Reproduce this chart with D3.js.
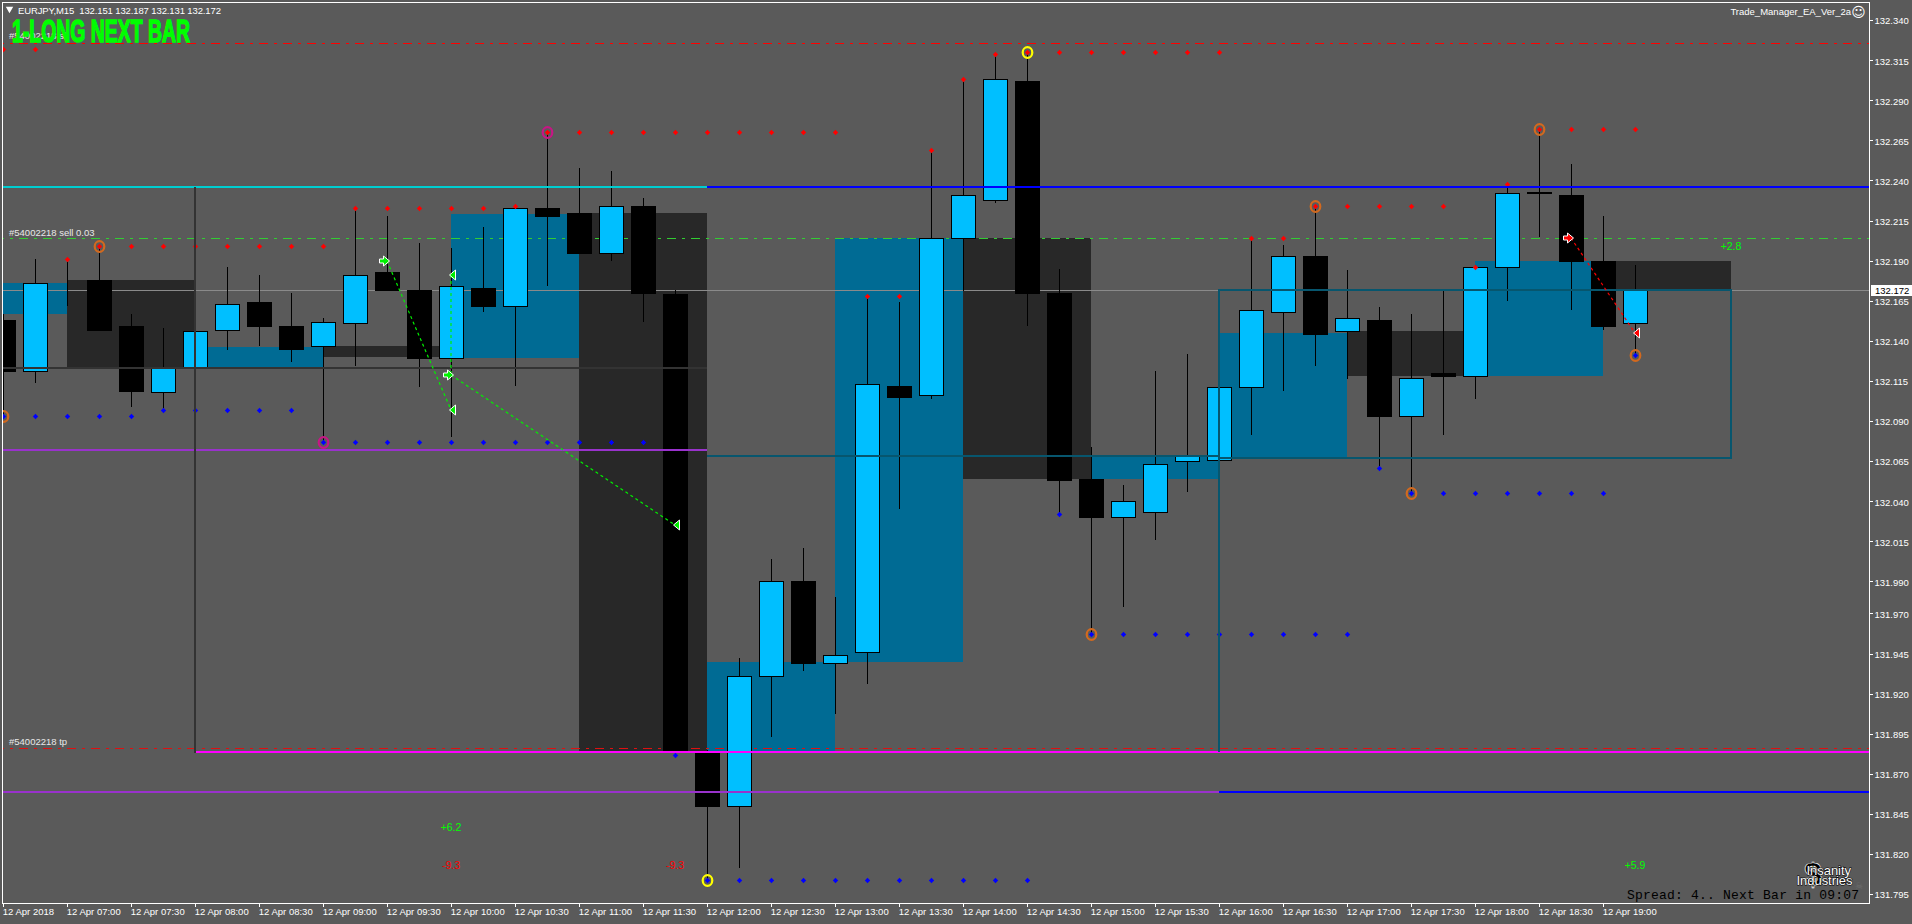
<!DOCTYPE html>
<html>
<head>
<meta charset="utf-8">
<title>EURJPY,M15</title>
<script src="https://cdn.jsdelivr.net/npm/d3@7"></script>
<style>
  html, body { margin: 0; padding: 0; background: #5a5a5a; overflow: hidden; }
  text { font-family: "Liberation Sans", sans-serif; font-size: 9.5px; white-space: pre; }
  .axis path.domain { display: none; }
  .axis line { stroke: #fff; shape-rendering: crispEdges; }
  .axis text { fill: #fff; font-family: "Liberation Sans", sans-serif; font-size: 9.5px; }
</style>
</head>
<body>
<svg id="chart" width="1912" height="924"></svg>
<script>
// M15 candles, index 0 = 12 Apr 06:30
const opens = [132.153,132.121,132.178,132.178,132.149,132.108,132.123,132.147,132.164,132.149,132.137,132.151,132.183,132.172,132.129,132.173,132.162,132.223,132.220,132.195,132.224,132.169,131.884,131.850,131.931,131.990,131.939,131.946,132.112,132.106,132.204,132.228,132.302,132.170,132.054,132.030,132.033,132.065,132.066,132.111,132.158,132.193,132.146,132.153,132.093,132.120,132.118,132.186,132.233,132.231,132.190,132.151];
const highs = [132.157,132.191,132.191,132.199,132.157,132.148,132.146,132.186,132.181,132.170,132.154,132.222,132.218,132.201,132.198,132.211,132.224,132.270,132.248,132.246,132.229,132.172,131.885,131.942,132.004,132.011,131.980,132.168,132.164,132.259,132.303,132.319,132.320,132.185,132.074,132.050,132.121,132.132,132.111,132.204,132.200,132.224,132.184,132.161,132.157,132.171,132.187,132.238,132.272,132.250,132.218,132.187];
const lows = [132.093,132.114,132.162,132.147,132.099,132.097,132.123,132.134,132.137,132.127,132.077,132.124,132.172,132.111,132.080,132.158,132.112,132.174,132.195,132.190,132.152,131.882,131.804,131.811,131.893,131.934,131.907,131.926,132.035,132.104,132.171,132.226,132.149,132.032,131.957,131.974,132.016,132.046,132.066,132.081,132.109,132.124,132.116,132.061,132.045,132.081,132.104,132.165,132.205,132.159,132.147,132.131];
const closes = [132.121,132.176,132.178,132.147,132.109,132.123,132.146,132.163,132.149,132.135,132.152,132.181,132.172,132.129,132.174,132.162,132.223,132.218,132.195,132.224,132.170,131.884,131.850,131.931,131.990,131.939,131.944,132.113,132.105,132.204,132.231,132.303,132.170,132.053,132.030,132.040,132.063,132.068,132.111,132.159,132.193,132.144,132.154,132.093,132.117,132.118,132.186,132.232,132.232,132.190,132.149,132.172];

// fractal levels, one per bar
const resistance = [132.322,132.322,132.191,132.199,132.199,132.199,132.199,132.199,132.199,132.199,132.199,132.223,132.223,132.223,132.223,132.223,132.224,132.270,132.270,132.270,132.270,132.270,132.270,132.270,132.270,132.270,132.270,132.168,132.168,132.259,132.303,132.319,132.320,132.320,132.320,132.320,132.320,132.320,132.320,132.204,132.204,132.224,132.224,132.224,132.224,132.224,132.186,132.238,132.272,132.272,132.272,132.272];
const support = [132.093,132.093,132.093,132.093,132.093,132.097,132.097,132.097,132.097,132.097,132.077,132.077,132.077,132.077,132.077,132.077,132.077,132.077,132.077,132.077,132.077,131.882,131.804,131.804,131.804,131.804,131.804,131.804,131.804,131.804,131.804,131.804,131.804,132.032,131.957,131.957,131.957,131.957,131.957,131.957,131.957,131.957,131.957,132.061,132.045,132.045,132.045,132.045,132.045,132.045,132.045,132.131];

const orangeRings = [[0,132.093],[3,132.199],[34,131.957],[41,132.224],[44,132.045],[48,132.272],[51,132.131]];
const pinkRings = [[10,132.077],[17,132.270]];
const yellowRings = [[22,131.804],[32,132.320]];

// [first bar, last bar, top price, bottom price]
const blueZones = [[-1,2,132.176,132.157],[6,10,132.136,132.123],[14,18,132.219,132.129],[22,26,131.940,131.884],[26,30,132.204,131.940],[34,38,132.068,132.054],[38,42,132.145,132.067],[46,50,132.190,132.118]];
const darkZones = [[2,6,132.178,132.123],[10,14,132.137,132.130],[18,22,132.220,131.884],[30,34,132.204,132.054],[42,46,132.146,132.118],[50,54,132.190,132.172]];

// [bar, price, bar, price]
const greenTrades = [[12,132.190,14,132.097],[14,132.119,21,132.025],[14,132.181,14,132.119]];
const redTrades = [[49,132.204,51,132.145]];
const profitLabels = [[14,131.837,"+6.2"],[51,131.813,"+5.9"],[54,132.199,"+2.8"]];
const lossLabels = [[14,131.813,"-9.3"],[21,131.813,"-9.3"]];

const priceTicks = [132.340,132.315,132.290,132.265,132.240,132.215,132.190,132.165,132.140,132.115,132.090,132.065,132.040,132.015,131.990,131.970,131.945,131.920,131.895,131.870,131.845,131.820,131.795];
const timeTickBars = d3.range(0, 52, 2);
const timeTickLabels = ["12 Apr 2018","12 Apr 07:00","12 Apr 07:30","12 Apr 08:00","12 Apr 08:30","12 Apr 09:00","12 Apr 09:30","12 Apr 10:00","12 Apr 10:30","12 Apr 11:00","12 Apr 11:30","12 Apr 12:00","12 Apr 12:30","12 Apr 13:00","12 Apr 13:30","12 Apr 14:00","12 Apr 14:30","12 Apr 15:00","12 Apr 15:30","12 Apr 16:00","12 Apr 16:30","12 Apr 17:00","12 Apr 17:30","12 Apr 18:00","12 Apr 18:30","12 Apr 19:00"];

const lastPrice = 132.172;
const slPrice = 132.326;
const entryPrice = 132.204;
const tpPrice = 131.886;
const upperLevel = 132.236;
const midLevel = 132.072;
const targetLevel = 131.8835;
const lowerLevel = 131.8585;
const boxTop = 132.172;
const boxBottom = 132.067;
const lowerBoxTop = 132.068;
const stopRail = 132.123;

const plotLeft = 3, plotRight = 1869, plotTop = 3, plotBottom = 903;
const endBar = 59;

const xScale = d3.scaleLinear().domain([0, 54]).range([3.3, 1731.3]);
const yScale = d3.scaleLinear().domain([132.340, 131.795]).range([20.1, 894.1]);
const px = i => Math.round(xScale(i));
const py = p => Math.round(yScale(p));

const svg = d3.select("#chart");
svg.append("rect").attr("width", 1912).attr("height", 924).attr("fill", "#5a5a5a");

svg.append("clipPath").attr("id", "plot")
    .append("rect").attr("x", plotLeft).attr("y", plotTop).attr("width", plotRight - plotLeft).attr("height", plotBottom - plotTop);

const chart = svg.append("g").attr("clip-path", "url(#plot)").attr("shape-rendering", "crispEdges");

// zones sit under everything else
function drawZones(zones, color) {
  chart.append("g").selectAll("rect").data(zones).join("rect")
      .attr("x", d => px(d[0]))
      .attr("width", d => px(d[1]) - px(d[0]))
      .attr("y", d => py(d[2]))
      .attr("height", d => py(d[3]) - py(d[2]))
      .attr("fill", color);
}
drawZones(darkZones, "#282828");
drawZones(blueZones, "#006b94");

function hLine(parent, price, from, to, color, width, dash) {
  const offset = width % 2 ? 0.5 : 0;
  return parent.append("line")
      .attr("x1", px(from)).attr("x2", px(to))
      .attr("y1", py(price) + offset).attr("y2", py(price) + offset)
      .attr("stroke", color).attr("stroke-width", width)
      .attr("stroke-dasharray", dash || null);
}

// order lines stay behind the candles
hLine(chart, lastPrice, -1, endBar, "#8a8a8a", 1);
hLine(chart, slPrice, -1, endBar, "#ff0000", 1, "9 6 3 6");
hLine(chart, entryPrice, -1, endBar, "#32cd32", 1, "9 6 3 6");
hLine(chart, tpPrice, -1, endBar, "#e01010", 1, "9 6 3 6");

const candles = d3.range(opens.length);
const isBull = i => closes[i] > opens[i];

chart.append("g").selectAll("line").data(candles).join("line")
    .attr("x1", i => px(i) + 0.5).attr("x2", i => px(i) + 0.5)
    .attr("y1", i => py(highs[i])).attr("y2", i => py(lows[i]))
    .attr("stroke", "#000").attr("stroke-width", 1);

chart.append("g").selectAll("rect").data(candles).join("rect")
    .attr("x", i => px(i) - 12 + 0.5)
    .attr("width", 24)
    .attr("y", i => py(Math.max(opens[i], closes[i])) + 0.5)
    .attr("height", i => py(Math.min(opens[i], closes[i])) - py(Math.max(opens[i], closes[i])))
    .attr("fill", i => isBull(i) ? "#00bfff" : "#000")
    .attr("stroke", "#000").attr("stroke-width", 1);

// fractal dots
const diamond = d3.symbol().type(d3.symbolDiamond2).size(18);
function drawDots(values, color) {
  svg.append("g").attr("clip-path", "url(#plot)").selectAll("path").data(values).join("path")
      .attr("d", diamond)
      .attr("transform", (d, i) => `translate(${px(i) + 0.5},${py(d) + 0.5})`)
      .attr("fill", color);
}
drawDots(resistance, "#ff0000");
drawDots(support, "#0000ff");

function drawRings(points, color) {
  svg.append("g").attr("clip-path", "url(#plot)").selectAll("ellipse").data(points).join("ellipse")
      .attr("cx", d => px(d[0]) + 0.5)
      .attr("cy", d => py(d[1]) + 0.5)
      .attr("rx", 4.8).attr("ry", 5.3)
      .attr("fill", "none").attr("stroke", color).attr("stroke-width", 2.2);
}
drawRings(orangeRings, "#d2691e");
drawRings(pinkRings, "#c71585");
drawRings(yellowRings, "#ffff00");

// objects drawn over the candles
const lines = svg.append("g").attr("clip-path", "url(#plot)").attr("shape-rendering", "crispEdges");
hLine(lines, upperLevel, -1, 22, "#00ced1", 2);
hLine(lines, upperLevel, 22, endBar, "#0000ff", 2);
hLine(lines, midLevel, -1, 22, "#9932cc", 2);
hLine(lines, lowerLevel, -1, 38, "#9932cc", 2);
hLine(lines, lowerLevel, 38, endBar, "#0000ff", 2);
hLine(lines, targetLevel, 6, endBar, "#ff00ff", 2);

hLine(lines, stopRail, -1, 22, "#333", 2);
lines.append("line")
    .attr("x1", px(6)).attr("x2", px(6))
    .attr("y1", py(upperLevel)).attr("y2", py(targetLevel) + 1)
    .attr("stroke", "#333").attr("stroke-width", 2);

// the two outlined boxes
hLine(lines, lowerBoxTop, 22, 38, "#07566e", 2);
hLine(lines, boxTop, 38, 54, "#07566e", 2);
hLine(lines, boxBottom, 38, 54, "#07566e", 2);
lines.append("line").attr("x1", px(38)).attr("x2", px(38))
    .attr("y1", py(boxTop) - 1).attr("y2", py(targetLevel))
    .attr("stroke", "#07566e").attr("stroke-width", 2);
lines.append("line").attr("x1", px(54)).attr("x2", px(54))
    .attr("y1", py(boxTop) - 1).attr("y2", py(boxBottom) + 1)
    .attr("stroke", "#07566e").attr("stroke-width", 2);

// trade arrows and their connectors
const arrowRight = "M-5,-2L-1,-2L-1,-5L5,0L-1,5L-1,2L-5,2Z";
const arrowLeft = "M-1.5,0L4.5,-5L4.5,5Z";
function drawTrades(trades, color) {
  const g = svg.append("g").attr("clip-path", "url(#plot)");
  g.selectAll("line").data(trades).join("line")
      .attr("x1", d => px(d[0])).attr("y1", d => py(d[1]))
      .attr("x2", d => px(d[2])).attr("y2", d => py(d[3]))
      .attr("stroke", color).attr("stroke-width", 1.2).attr("stroke-dasharray", "3 3");
  g.selectAll("path.open").data(trades.filter(d => d[0] !== d[2])).join("path")
      .attr("class", "open")
      .attr("d", arrowRight)
      .attr("transform", d => `translate(${px(d[0]) - 2.5},${py(d[1])})`)
      .attr("fill", color).attr("stroke", "#fff").attr("stroke-width", 1);
  g.selectAll("path.close").data(trades).join("path")
      .attr("class", "close")
      .attr("d", arrowLeft)
      .attr("transform", d => d[0] === d[2] ? `translate(${px(d[0])},${py(d[1])})` : `translate(${px(d[2])},${py(d[3])})`)
      .attr("fill", color).attr("stroke", "#fff").attr("stroke-width", 1);
}
drawTrades(greenTrades, "#00f000");
drawTrades(redTrades, "#ff0000");

// axes and frame
const xAxis = d3.axisBottom(xScale)
    .tickValues(timeTickBars)
    .tickSize(3)
    .tickSizeOuter(0)
    .tickPadding(4)
    .tickFormat((d, i) => timeTickLabels[i]);
const yAxis = d3.axisRight(yScale)
    .tickValues(priceTicks)
    .tickSize(3)
    .tickSizeOuter(0)
    .tickPadding(2)
    .tickFormat(d3.format(".3f"));

const xAxisG = svg.append("g").attr("class", "axis").attr("transform", `translate(0,${plotBottom + 0.5})`).call(xAxis);
xAxisG.selectAll("text").attr("text-anchor", "start").attr("dx", -1).attr("y", 5);
const yAxisG = svg.append("g").attr("class", "axis").attr("transform", `translate(${plotRight + 0.5},0)`).call(yAxis);
yAxisG.selectAll("text").attr("dy", "0.4em");

svg.append("rect")
    .attr("x", 2.5).attr("y", 2.5)
    .attr("width", plotRight - 2).attr("height", plotBottom - 2)
    .attr("fill", "none").attr("stroke", "#fff").attr("stroke-width", 1)
    .attr("shape-rendering", "crispEdges");

// last price flag
svg.append("rect").attr("x", 1871).attr("y", py(lastPrice) - 5).attr("width", 41).attr("height", 11).attr("fill", "#fff");
svg.append("text").attr("x", 1875).attr("y", py(lastPrice) + 4).attr("fill", "#000").text(d3.format(".3f")(lastPrice));

// chart texts
svg.append("path")
    .attr("d", d3.symbol().type(d3.symbolTriangle).size(24))
    .attr("transform", "translate(9.5,9) rotate(180)")
    .attr("fill", "#fff");
svg.append("text").attr("x", 18).attr("y", 14).attr("fill", "#fff")
    .attr("textLength", 203).attr("lengthAdjust", "spacing")
    .text("EURJPY,M15  132.151 132.187 132.131 132.172");

svg.append("text").attr("x", 9).attr("y", 39).attr("fill", "#e8e8e8").text("#54002218 sl");
svg.append("text").attr("x", 9).attr("y", 236).attr("fill", "#e8e8e8").text("#54002218 sell 0.03");
svg.append("text").attr("x", 9).attr("y", 745).attr("fill", "#e8e8e8").text("#54002218 tp");

svg.append("text").attr("x", 12).attr("y", 41.5)
    .attr("textLength", 178).attr("lengthAdjust", "spacingAndGlyphs")
    .attr("fill", "#00ff00").attr("stroke", "#00ff00").attr("stroke-width", 1.4)
    .style("font-family", "'Liberation Sans Narrow', 'Liberation Sans', sans-serif")
    .style("font-weight", "bold").style("font-size", "31px")
    .text("1-LONG NEXT BAR");

svg.append("text").attr("x", 1851).attr("y", 15).attr("text-anchor", "end").attr("fill", "#fff")
    .text("Trade_Manager_EA_Ver_2a");
svg.append("text").attr("x", 1858.5).attr("y", 17).attr("text-anchor", "middle").attr("fill", "#fff")
    .style("font-family", "'DejaVu Sans'").style("font-size", "14px")
    .text("\u263A");

svg.selectAll("text.profit").data(profitLabels).join("text")
    .attr("class", "profit")
    .attr("x", d => px(d[0])).attr("y", d => py(d[1]) + 4)
    .attr("text-anchor", "middle").attr("fill", "#00ff00").style("font-size", "10.5px")
    .text(d => d[2]);
svg.selectAll("text.loss").data(lossLabels).join("text")
    .attr("class", "loss")
    .attr("x", d => px(d[0])).attr("y", d => py(d[1]) + 4)
    .attr("text-anchor", "middle").attr("fill", "#ff0000").style("font-size", "10.5px")
    .text(d => d[2]);

// logo and countdown, bottom right
svg.append("text").attr("x", 1813).attr("y", 885).attr("text-anchor", "middle")
    .attr("fill", "#000").attr("stroke", "#fff").attr("stroke-width", 0.7)
    .style("font-size", "32px").style("font-weight", "bold").text("$");
svg.append("text").attr("x", 1806.5).attr("y", 875).attr("textLength", 44.5)
    .attr("fill", "#fff").attr("stroke", "#000").attr("stroke-width", 1).attr("paint-order", "stroke")
    .style("font-size", "13px").text("Insanity");
svg.append("text").attr("x", 1796.5).attr("y", 885).attr("textLength", 56)
    .attr("fill", "#fff").attr("stroke", "#000").attr("stroke-width", 1).attr("paint-order", "stroke")
    .style("font-size", "13px").text("Industries");
svg.append("text").attr("x", 1859).attr("y", 889).attr("text-anchor", "middle").attr("fill", "#6e6e6e")
    .style("font-family", "'DejaVu Sans'").style("font-size", "9px").text("\u2620");
svg.append("text").attr("x", 1627).attr("y", 899)
    .attr("textLength", 232).attr("fill", "#000")
    .style("font-family", "'Liberation Mono', monospace").style("font-size", "13px")
    .text("Spread: 4.. Next Bar in 09:07");
</script>
</body>
</html>
